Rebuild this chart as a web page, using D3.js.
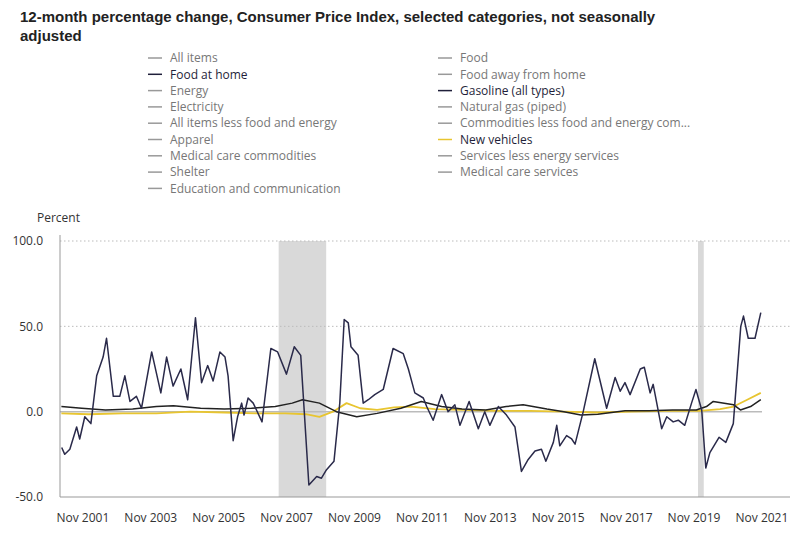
<!DOCTYPE html>
<html><head><meta charset="utf-8">
<script src="https://cdn.jsdelivr.net/npm/d3@7"></script>
<style>body{margin:0;background:#fff;font-family:"Open Sans",sans-serif}</style>
</head><body>
<script>
// legend entries: [label, colour]
const legendLeft = [["All items","#999"],["Food at home","#1f1f3a"],["Energy","#999"],["Electricity","#999"],
  ["All items less food and energy","#999"],["Apparel","#999"],["Medical care commodities","#999"],["Shelter","#999"],
  ["Education and communication","#999"]];
const legendRight = [["Food","#999"],["Food away from home","#999"],["Gasoline (all types)","#1f1f3a"],["Natural gas (piped)","#999"],
  ["Commodities less food and energy com...","#999"],["New vehicles","#e8c530"],["Services less energy services","#999"],["Medical care services","#999"]];

// decimal years and values
const gasYears = [2001.21,2001.30,2001.45,2001.65,2001.74,2001.89,2002.07,2002.24,2002.43,2002.53,2002.73,2002.92,2003.07,2003.22,2003.41,2003.56,2003.86,2004.13,2004.30,2004.49,2004.72,2004.92,2005.15,2005.33,2005.51,2005.67,2005.87,2006.02,2006.11,2006.26,2006.39,2006.51,2006.58,2006.70,2006.85,2007.11,2007.37,2007.57,2007.83,2008.06,2008.25,2008.49,2008.72,2008.86,2009.01,2009.23,2009.40,2009.53,2009.65,2009.73,2009.94,2010.09,2010.24,2010.43,2010.68,2010.97,2011.27,2011.42,2011.61,2011.86,2011.96,2012.15,2012.40,2012.59,2012.79,2012.94,2013.21,2013.48,2013.67,2013.82,2014.07,2014.31,2014.56,2014.75,2014.95,2015.15,2015.34,2015.47,2015.69,2015.79,2015.88,2016.08,2016.23,2016.33,2016.57,2016.91,2017.26,2017.51,2017.66,2017.80,2017.95,2018.25,2018.37,2018.54,2018.63,2018.88,2019.03,2019.22,2019.37,2019.56,2019.76,2019.89,2020.06,2020.18,2020.30,2020.57,2020.77,2020.99,2021.21,2021.29,2021.43,2021.63,2021.80];
const gasValues = [-21,-25,-22,-9,-16,-3,-7,21,32,43,9,9,21,6,9,2,35,11,32,15,25,7,55,17,27,18,35,32,21,-17,-3,5,-2,8,5,-6,37,35,22,38,33,-43,-38,-39,-34,-29,5,54,52,38,33,5,7,10,13,37,34,25,11,8,3,-5,10,0,4,-8,6,-10,0,-8,3,-2,-9,-35,-28,-23,-22,-29,-18,-8,-20,-14,-16,-19,0,31,2,20,12,17,10,25,26,11,16,-10,-3,-6,-5,-8,5,13,1,-33,-24,-15,-18,-7,50,56,43,43,58];

const foodYears = [2001.2,2001.8,2002.5,2003.3,2004.0,2004.5,2005.3,2006.0,2006.8,2007.5,2008.0,2008.3,2008.8,2009.3,2009.9,2010.5,2011.2,2011.8,2012.4,2013.0,2013.7,2014.3,2014.8,2015.5,2016.0,2016.5,2017.0,2017.8,2018.5,2019.2,2019.9,2020.2,2020.4,2021.0,2021.2,2021.5,2021.8];
const foodValues = [3,2,1,1.5,3,3.5,2,1.5,2,3,5,7,5,0,-3,-1,2,6,3,1.5,1,3,4,1.5,0,-2,-1.5,0.5,0.5,1,1,3,6,4,1,3,7];

const carYears = [2001.2,2002.0,2003.0,2004.0,2005.0,2006.0,2007.0,2007.8,2008.4,2008.8,2009.2,2009.6,2010.0,2010.5,2011.0,2011.5,2012.2,2013.0,2014.0,2015.0,2016.0,2017.0,2018.0,2019.0,2020.0,2020.6,2021.0,2021.4,2021.8];
const carValues = [-1,-1.5,-1,-1,0,-0.5,-1,-1,-1.5,-3,0,5,2,1,2.5,3,1.5,1,0.5,0.5,0,-0.5,0,0.5,0.5,1.5,3,7,11];

const recessions = [[2007.6,2009.0],[2019.95,2020.12]];
const tickYears = [2001,2003,2005,2007,2009,2011,2013,2015,2017,2019,2021];
const yTicks = [-50,0,50,100];

const W = 800, H = 533;
const svg = d3.select("body").append("svg").attr("width", W).attr("height", H);

svg.append("text").attr("x", 20).attr("y", 22).attr("font-size", 15).attr("font-weight", "bold").attr("fill", "#222")
  .attr("font-family", "Liberation Sans, Arial, sans-serif")
  .text("12-month percentage change, Consumer Price Index, selected categories, not seasonally");
svg.append("text").attr("x", 20).attr("y", 41).attr("font-size", 15).attr("font-weight", "bold").attr("fill", "#222")
  .attr("font-family", "Liberation Sans, Arial, sans-serif").text("adjusted");

function legend(items, x0) {
  const g = svg.append("g").selectAll("g").data(items).join("g")
    .attr("transform", (d, i) => `translate(${x0},${58 + i * 16.3})`);
  g.append("line").attr("x1", 0).attr("x2", 14).attr("stroke", d => d[1]).attr("stroke-width", 1.5);
  g.append("text").attr("x", 22).attr("dy", "0.35em").attr("font-size", 12)
    .attr("fill", d => d[1] === "#999" ? "#777" : "#1f1f3a").text(d => d[0]);
}
legend(legendLeft, 148);
legend(legendRight, 438);

const x = d3.scaleLinear().domain([2001.16, 2022.66]).range([60, 790]);
const y = d3.scaleLinear().domain([-50, 100]).range([497, 241]);

svg.append("g").selectAll("rect").data(recessions).join("rect")
  .attr("x", d => x(d[0])).attr("width", d => x(d[1]) - x(d[0]))
  .attr("y", y(100)).attr("height", y(-50) - y(100)).attr("fill", "#d9d9d9");

svg.append("g").selectAll("line").data([50, 100]).join("line")
  .attr("x1", 60).attr("x2", 790).attr("y1", d => y(d)).attr("y2", d => y(d))
  .attr("stroke", "#bbb").attr("stroke-dasharray", "1.5,2.5");
svg.append("line").attr("x1", 60).attr("x2", 762).attr("y1", y(0)).attr("y2", y(0)).attr("stroke", "#bbb").attr("stroke-width", 1.5);

svg.append("g").selectAll("text").data(yTicks).join("text")
  .attr("x", 43).attr("y", d => y(d)).attr("dy", "0.35em").attr("text-anchor", "end")
  .attr("font-size", 12).attr("fill", "#333").text(d => d.toFixed(1));
svg.append("text").attr("x", 37).attr("y", 222).attr("font-size", 12).attr("fill", "#333").text("Percent");

svg.append("g").selectAll("text").data(tickYears).join("text")
  .attr("x", d => x(d + 10 / 12)).attr("y", 522).attr("text-anchor", "middle")
  .attr("font-size", 12).attr("fill", "#333").text(d => "Nov " + d);

const line = d3.line().x(d => x(d[0])).y(d => y(d[1]));
function series(years, vals, color, w) {
  svg.append("path").datum(d3.zip(years, vals)).attr("d", line)
    .attr("fill", "none").attr("stroke", color).attr("stroke-width", w).attr("stroke-linejoin", "round");
}
series(carYears, carValues, "#e8c530", 1.8);
series(foodYears, foodValues, "#222", 1.5);
series(gasYears, gasValues, "#2a2a4a", 1.5);

svg.append("line").attr("x1", 60).attr("x2", 60).attr("y1", 235).attr("y2", 497).attr("stroke", "#999");
svg.append("line").attr("x1", 60).attr("x2", 790).attr("y1", 497).attr("y2", 497).attr("stroke", "#999");
</script>
</body></html>
